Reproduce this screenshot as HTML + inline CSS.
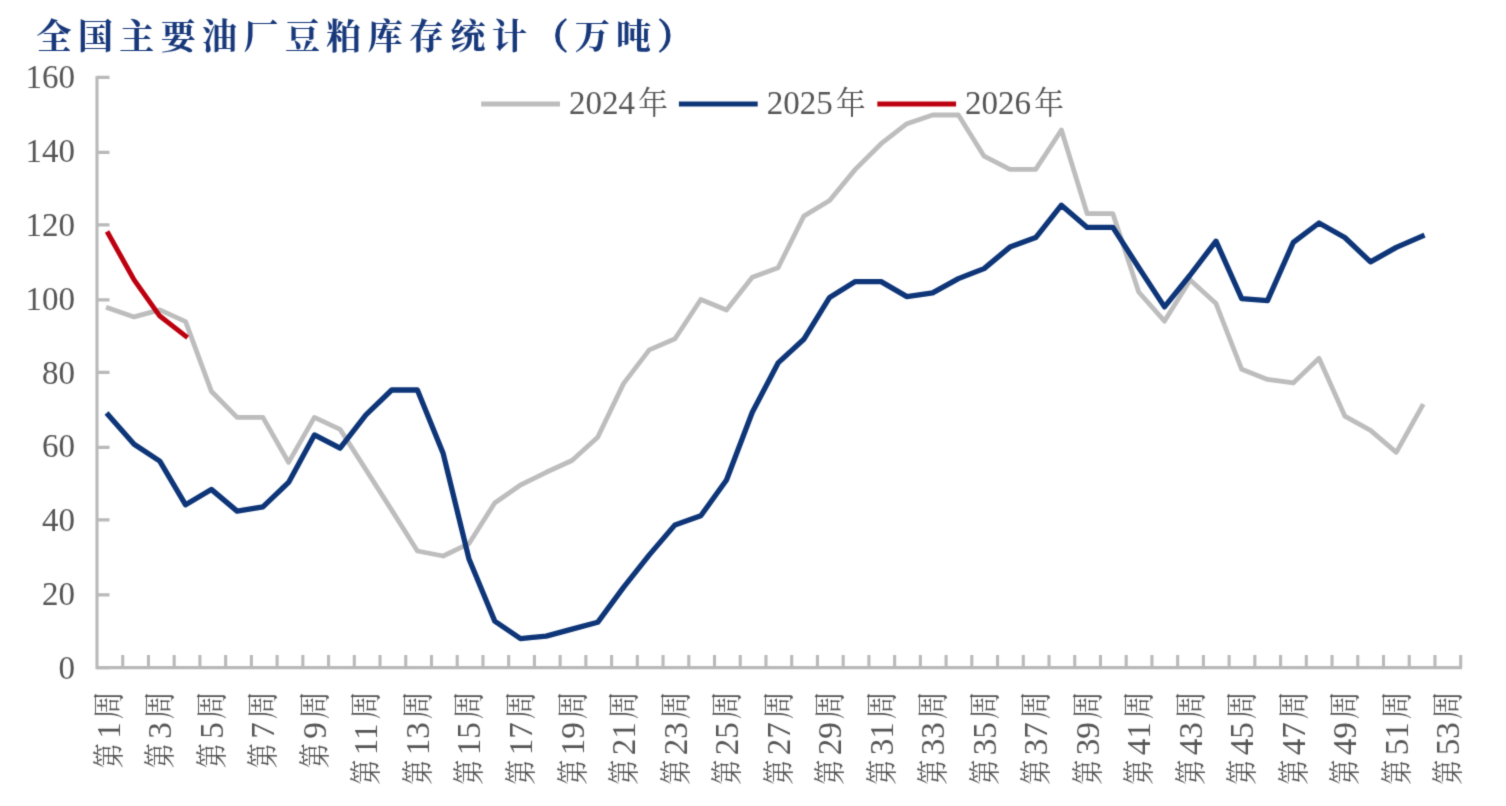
<!DOCTYPE html>
<html lang="zh-CN"><head><meta charset="utf-8"><title>全国主要油厂豆粕库存统计</title>
<style>
html,body{margin:0;padding:0;background:#fff;}
body{width:1506px;height:806px;overflow:hidden;position:relative;}
svg{position:absolute;left:0;top:0;display:block;}
.t{font-family:"Liberation Serif","Noto Serif CJK SC",serif;fill:#555555;}
.title{font-family:"Liberation Serif","Noto Serif CJK SC",serif;font-weight:700;fill:#17387a;}
</style></head><body>
<svg width="1506" height="806" viewBox="0 0 1506 806">
<defs><filter id="soft" x="0" y="0" width="1506" height="806" filterUnits="userSpaceOnUse" color-interpolation-filters="sRGB"><feConvolveMatrix order="3" kernelMatrix="1 5 1 5 25 5 1 5 1" divisor="49" edgeMode="duplicate" preserveAlpha="false"/></filter></defs>
<rect width="1506" height="806" fill="#fff"/>
<g filter="url(#soft)">
<text class="title" stroke="#17387a" stroke-width="0.15" x="36.5" y="48.6" font-size="35" letter-spacing="6.4">全国主要油厂豆粕库存统计<tspan stroke="#17387a" stroke-width="1">（</tspan>万吨<tspan stroke="#17387a" stroke-width="1">）</tspan></text>
<g stroke="#b9b9b9" stroke-width="3.1" fill="none">
<path d="M97.0,76.10000000000001 V667.6 H1462.0"/>
<path d="M97.0,667.60 h12.5 M97.0,594.90 h12.5 M97.0,519.90 h12.5 M97.0,447.40 h12.5 M97.0,372.40 h12.5 M97.0,299.90 h12.5 M97.0,224.90 h12.5 M97.0,152.40 h12.5 M97.0,77.40 h12.5 "/>
<path d="M122.73,667.6 v-12.5 M148.46,667.6 v-12.5 M174.19,667.6 v-12.5 M199.92,667.6 v-12.5 M225.65,667.6 v-12.5 M251.38,667.6 v-12.5 M277.11,667.6 v-12.5 M302.84,667.6 v-12.5 M328.57,667.6 v-12.5 M354.30,667.6 v-12.5 M380.03,667.6 v-12.5 M405.76,667.6 v-12.5 M431.49,667.6 v-12.5 M457.22,667.6 v-12.5 M482.95,667.6 v-12.5 M508.68,667.6 v-12.5 M534.41,667.6 v-12.5 M560.14,667.6 v-12.5 M585.87,667.6 v-12.5 M611.60,667.6 v-12.5 M637.33,667.6 v-12.5 M663.06,667.6 v-12.5 M688.79,667.6 v-12.5 M714.52,667.6 v-12.5 M740.25,667.6 v-12.5 M765.98,667.6 v-12.5 M791.71,667.6 v-12.5 M817.44,667.6 v-12.5 M843.17,667.6 v-12.5 M868.90,667.6 v-12.5 M894.63,667.6 v-12.5 M920.36,667.6 v-12.5 M946.09,667.6 v-12.5 M971.82,667.6 v-12.5 M997.55,667.6 v-12.5 M1023.28,667.6 v-12.5 M1049.01,667.6 v-12.5 M1074.74,667.6 v-12.5 M1100.47,667.6 v-12.5 M1126.20,667.6 v-12.5 M1151.93,667.6 v-12.5 M1177.66,667.6 v-12.5 M1203.39,667.6 v-12.5 M1229.12,667.6 v-12.5 M1254.85,667.6 v-12.5 M1280.58,667.6 v-12.5 M1306.31,667.6 v-12.5 M1332.04,667.6 v-12.5 M1357.77,667.6 v-12.5 M1383.50,667.6 v-12.5 M1409.23,667.6 v-12.5 M1434.96,667.6 v-12.5 M1460.69,667.6 v-12.5 "/>
</g>
<g class="t" font-size="33" text-anchor="end">
<text x="75.0" y="678.9">0</text>
<text x="75.0" y="605.1">20</text>
<text x="75.0" y="531.2">40</text>
<text x="75.0" y="457.4">60</text>
<text x="75.0" y="383.5">80</text>
<text x="75.0" y="309.7">100</text>
<text x="75.0" y="235.9">120</text>
<text x="75.0" y="162.0">140</text>
<text x="75.0" y="88.2">160</text>
</g>
<g class="t" font-size="32">
<text transform="translate(119.8,799.3) rotate(-90)"><tspan x="31.05" textLength="25" lengthAdjust="spacingAndGlyphs">第</tspan><tspan x="60.55" font-size="33">1</tspan><tspan x="80.15" textLength="27.8" lengthAdjust="spacingAndGlyphs">周</tspan></text>
<text transform="translate(171.3,799.3) rotate(-90)"><tspan x="31.05" textLength="25" lengthAdjust="spacingAndGlyphs">第</tspan><tspan x="60.55" font-size="33">3</tspan><tspan x="80.15" textLength="27.8" lengthAdjust="spacingAndGlyphs">周</tspan></text>
<text transform="translate(222.8,799.3) rotate(-90)"><tspan x="31.05" textLength="25" lengthAdjust="spacingAndGlyphs">第</tspan><tspan x="60.55" font-size="33">5</tspan><tspan x="80.15" textLength="27.8" lengthAdjust="spacingAndGlyphs">周</tspan></text>
<text transform="translate(274.4,799.3) rotate(-90)"><tspan x="31.05" textLength="25" lengthAdjust="spacingAndGlyphs">第</tspan><tspan x="60.55" font-size="33">7</tspan><tspan x="80.15" textLength="27.8" lengthAdjust="spacingAndGlyphs">周</tspan></text>
<text transform="translate(325.9,799.3) rotate(-90)"><tspan x="31.05" textLength="25" lengthAdjust="spacingAndGlyphs">第</tspan><tspan x="60.55" font-size="33">9</tspan><tspan x="80.15" textLength="27.8" lengthAdjust="spacingAndGlyphs">周</tspan></text>
<text transform="translate(377.4,799.3) rotate(-90)"><tspan x="14.55" textLength="25" lengthAdjust="spacingAndGlyphs">第</tspan><tspan x="44.05" font-size="33">11</tspan><tspan x="80.15" textLength="27.8" lengthAdjust="spacingAndGlyphs">周</tspan></text>
<text transform="translate(428.9,799.3) rotate(-90)"><tspan x="14.55" textLength="25" lengthAdjust="spacingAndGlyphs">第</tspan><tspan x="44.05" font-size="33">13</tspan><tspan x="80.15" textLength="27.8" lengthAdjust="spacingAndGlyphs">周</tspan></text>
<text transform="translate(480.4,799.3) rotate(-90)"><tspan x="14.55" textLength="25" lengthAdjust="spacingAndGlyphs">第</tspan><tspan x="44.05" font-size="33">15</tspan><tspan x="80.15" textLength="27.8" lengthAdjust="spacingAndGlyphs">周</tspan></text>
<text transform="translate(532.0,799.3) rotate(-90)"><tspan x="14.55" textLength="25" lengthAdjust="spacingAndGlyphs">第</tspan><tspan x="44.05" font-size="33">17</tspan><tspan x="80.15" textLength="27.8" lengthAdjust="spacingAndGlyphs">周</tspan></text>
<text transform="translate(583.5,799.3) rotate(-90)"><tspan x="14.55" textLength="25" lengthAdjust="spacingAndGlyphs">第</tspan><tspan x="44.05" font-size="33">19</tspan><tspan x="80.15" textLength="27.8" lengthAdjust="spacingAndGlyphs">周</tspan></text>
<text transform="translate(635.0,799.3) rotate(-90)"><tspan x="14.55" textLength="25" lengthAdjust="spacingAndGlyphs">第</tspan><tspan x="44.05" font-size="33">21</tspan><tspan x="80.15" textLength="27.8" lengthAdjust="spacingAndGlyphs">周</tspan></text>
<text transform="translate(686.5,799.3) rotate(-90)"><tspan x="14.55" textLength="25" lengthAdjust="spacingAndGlyphs">第</tspan><tspan x="44.05" font-size="33">23</tspan><tspan x="80.15" textLength="27.8" lengthAdjust="spacingAndGlyphs">周</tspan></text>
<text transform="translate(738.0,799.3) rotate(-90)"><tspan x="14.55" textLength="25" lengthAdjust="spacingAndGlyphs">第</tspan><tspan x="44.05" font-size="33">25</tspan><tspan x="80.15" textLength="27.8" lengthAdjust="spacingAndGlyphs">周</tspan></text>
<text transform="translate(789.6,799.3) rotate(-90)"><tspan x="14.55" textLength="25" lengthAdjust="spacingAndGlyphs">第</tspan><tspan x="44.05" font-size="33">27</tspan><tspan x="80.15" textLength="27.8" lengthAdjust="spacingAndGlyphs">周</tspan></text>
<text transform="translate(841.1,799.3) rotate(-90)"><tspan x="14.55" textLength="25" lengthAdjust="spacingAndGlyphs">第</tspan><tspan x="44.05" font-size="33">29</tspan><tspan x="80.15" textLength="27.8" lengthAdjust="spacingAndGlyphs">周</tspan></text>
<text transform="translate(892.6,799.3) rotate(-90)"><tspan x="14.55" textLength="25" lengthAdjust="spacingAndGlyphs">第</tspan><tspan x="44.05" font-size="33">31</tspan><tspan x="80.15" textLength="27.8" lengthAdjust="spacingAndGlyphs">周</tspan></text>
<text transform="translate(944.1,799.3) rotate(-90)"><tspan x="14.55" textLength="25" lengthAdjust="spacingAndGlyphs">第</tspan><tspan x="44.05" font-size="33">33</tspan><tspan x="80.15" textLength="27.8" lengthAdjust="spacingAndGlyphs">周</tspan></text>
<text transform="translate(995.6,799.3) rotate(-90)"><tspan x="14.55" textLength="25" lengthAdjust="spacingAndGlyphs">第</tspan><tspan x="44.05" font-size="33">35</tspan><tspan x="80.15" textLength="27.8" lengthAdjust="spacingAndGlyphs">周</tspan></text>
<text transform="translate(1047.2,799.3) rotate(-90)"><tspan x="14.55" textLength="25" lengthAdjust="spacingAndGlyphs">第</tspan><tspan x="44.05" font-size="33">37</tspan><tspan x="80.15" textLength="27.8" lengthAdjust="spacingAndGlyphs">周</tspan></text>
<text transform="translate(1098.7,799.3) rotate(-90)"><tspan x="14.55" textLength="25" lengthAdjust="spacingAndGlyphs">第</tspan><tspan x="44.05" font-size="33">39</tspan><tspan x="80.15" textLength="27.8" lengthAdjust="spacingAndGlyphs">周</tspan></text>
<text transform="translate(1150.2,799.3) rotate(-90)"><tspan x="14.55" textLength="25" lengthAdjust="spacingAndGlyphs">第</tspan><tspan x="44.05" font-size="33">41</tspan><tspan x="80.15" textLength="27.8" lengthAdjust="spacingAndGlyphs">周</tspan></text>
<text transform="translate(1201.7,799.3) rotate(-90)"><tspan x="14.55" textLength="25" lengthAdjust="spacingAndGlyphs">第</tspan><tspan x="44.05" font-size="33">43</tspan><tspan x="80.15" textLength="27.8" lengthAdjust="spacingAndGlyphs">周</tspan></text>
<text transform="translate(1253.2,799.3) rotate(-90)"><tspan x="14.55" textLength="25" lengthAdjust="spacingAndGlyphs">第</tspan><tspan x="44.05" font-size="33">45</tspan><tspan x="80.15" textLength="27.8" lengthAdjust="spacingAndGlyphs">周</tspan></text>
<text transform="translate(1304.8,799.3) rotate(-90)"><tspan x="14.55" textLength="25" lengthAdjust="spacingAndGlyphs">第</tspan><tspan x="44.05" font-size="33">47</tspan><tspan x="80.15" textLength="27.8" lengthAdjust="spacingAndGlyphs">周</tspan></text>
<text transform="translate(1356.3,799.3) rotate(-90)"><tspan x="14.55" textLength="25" lengthAdjust="spacingAndGlyphs">第</tspan><tspan x="44.05" font-size="33">49</tspan><tspan x="80.15" textLength="27.8" lengthAdjust="spacingAndGlyphs">周</tspan></text>
<text transform="translate(1407.8,799.3) rotate(-90)"><tspan x="14.55" textLength="25" lengthAdjust="spacingAndGlyphs">第</tspan><tspan x="44.05" font-size="33">51</tspan><tspan x="80.15" textLength="27.8" lengthAdjust="spacingAndGlyphs">周</tspan></text>
<text transform="translate(1459.3,799.3) rotate(-90)"><tspan x="14.55" textLength="25" lengthAdjust="spacingAndGlyphs">第</tspan><tspan x="44.05" font-size="33">53</tspan><tspan x="80.15" textLength="27.8" lengthAdjust="spacingAndGlyphs">周</tspan></text>
</g>
<polyline points="108.3,308.0 134.1,316.9 159.8,309.9 185.6,321.6 211.3,391.2 237.1,417.4 262.9,417.4 288.6,462.4 314.4,417.4 340.1,429.4 365.9,469.6 391.7,510.1 417.4,551.0 443.2,556.0 468.9,543.7 494.7,503.0 520.5,485.0 546.2,472.3 572.0,460.5 597.7,437.3 623.5,383.6 649.3,349.9 675.0,338.7 700.8,299.5 726.5,310.0 752.3,277.3 778.1,267.8 803.8,216.1 829.6,200.5 855.3,169.4 881.1,143.7 906.9,123.7 932.6,115.0 958.4,115.0 984.1,156.2 1009.9,169.4 1035.7,169.4 1061.4,130.0 1087.2,213.7 1112.9,213.7 1138.7,292.0 1164.5,321.1 1190.2,280.0 1216.0,303.6 1241.7,369.3 1267.5,379.4 1293.3,382.9 1319.0,358.3 1344.8,416.1 1370.5,430.4 1396.3,452.3 1422.1,406.2" fill="none" stroke="#bdbdbd" stroke-width="4.8" stroke-linejoin="round" stroke-linecap="square"/>
<polyline points="108.3,414.9 134.1,444.2 159.8,461.1 185.6,504.8 211.3,489.4 237.1,511.1 262.9,506.8 288.6,482.4 314.4,434.9 340.1,448.2 365.9,414.9 391.7,390.0 417.4,390.0 443.2,453.6 468.9,558.7 494.7,621.1 520.5,638.6 546.2,636.1 572.0,629.1 597.7,622.3 623.5,587.4 649.3,554.9 675.0,524.9 700.8,515.7 726.5,480.0 752.3,412.3 778.1,362.9 803.8,339.3 829.6,297.4 855.3,281.6 881.1,281.6 906.9,296.6 932.6,292.9 958.4,278.6 984.1,268.6 1009.9,247.1 1035.7,237.6 1061.4,205.2 1087.2,227.4 1112.9,227.4 1138.7,267.5 1164.5,306.9 1190.2,275.0 1216.0,241.2 1241.7,298.6 1267.5,300.6 1293.3,242.4 1319.0,223.0 1344.8,237.5 1370.5,261.9 1396.3,247.4 1422.1,236.2" fill="none" stroke="#0d3578" stroke-width="5.3" stroke-linejoin="round" stroke-linecap="square"/>
<polyline points="108.3,233.7 134.1,279.9 159.8,316.1 185.6,336.1" fill="none" stroke="#bd0010" stroke-width="5" stroke-linejoin="round" stroke-linecap="square"/>
<line x1="481.2" y1="104.1" x2="560.0" y2="104.1" stroke="#bdbdbd" stroke-width="5"/>
<text class="t" x="569.0" y="114" font-size="33">2024<tspan font-size="32" dx="3.2" textLength="29.6" lengthAdjust="spacingAndGlyphs">年</tspan></text>
<line x1="678.9" y1="104.1" x2="757.6999999999999" y2="104.1" stroke="#0d3578" stroke-width="5"/>
<text class="t" x="766.6999999999999" y="114" font-size="33">2025<tspan font-size="32" dx="3.2" textLength="29.6" lengthAdjust="spacingAndGlyphs">年</tspan></text>
<line x1="877.3" y1="104.1" x2="956.0999999999999" y2="104.1" stroke="#bd0010" stroke-width="5"/>
<text class="t" x="965.0999999999999" y="114" font-size="33">2026<tspan font-size="32" dx="3.2" textLength="29.6" lengthAdjust="spacingAndGlyphs">年</tspan></text>
</g>
</svg>
</body></html>
